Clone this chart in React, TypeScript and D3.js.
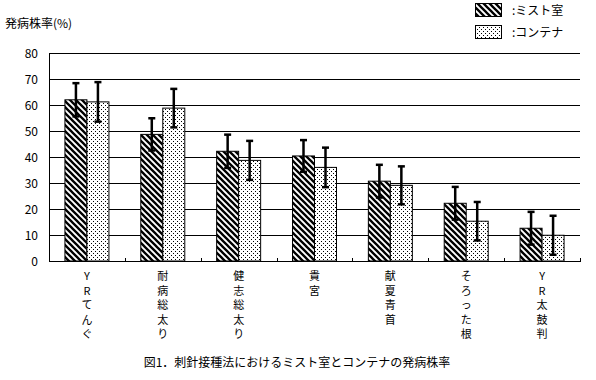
import React from "react";
import * as d3 from "d3";

const categories = ["YRてんぐ", "耐病総太り", "健志総太り", "貴宮", "献夏青首", "そろった根", "YR太鼓判"];
const seriesNames = ["ミスト室", "コンテナ"];
const mistValues = [62, 48.7, 42.2, 40.4, 30.7, 22.2, 12.6];
const mistErrors = [6.4, 6.2, 6.4, 6.1, 6.3, 6.3, 6.3];
const containerValues = [61.2, 58.8, 38.7, 36.0, 29.1, 15.3, 9.9];
const containerErrors = [7.6, 7.4, 7.5, 7.6, 7.3, 7.4, 7.5];
const yTicks = [0, 10, 20, 30, 40, 50, 60, 70, 80];
const yTitle = "発病株率(%)";
const chartTitle = "図1．刺針接種法におけるミスト室とコンテナの発病株率";

const W = 596;
const H = 380;
const left = 49;
const right = 580;
const top = 53;
const bottom = 261;
const FONT = "'Noto Sans CJK JP', 'Noto Sans', sans-serif";

export default function App() {
  const x = d3.scaleBand<string>().domain(categories).range([left, right]).paddingInner(0.42).paddingOuter(0.21);
  const xs = d3.scaleBand<string>().domain(seriesNames).range([0, x.bandwidth()]);
  const y = d3.scaleLinear().domain([0, 80]).range([bottom, top]);
  const step = x.step();
  const series = [
    { name: seriesNames[0], values: mistValues, errors: mistErrors, fill: "url(#hatch)" },
    { name: seriesNames[1], values: containerValues, errors: containerErrors, fill: "url(#dots)" },
  ];
  const boundaries = d3.range(1, categories.length + 1).map((i) => left + i * step);
  const cap = 3.5;

  return (
    <svg width={W} height={H} style={{ position: "absolute", left: 0, top: 0, background: "#fff" }} fontFamily={FONT}>
      <defs>
        <pattern id="hatch" patternUnits="userSpaceOnUse" width={6} height={6}>
          <rect width={6} height={6} fill="#fff" />
          <path d="M0,0 L6,6 M-1,5 L1,7 M5,-1 L7,1" stroke="#000" strokeWidth={2.3} />
        </pattern>
        <pattern id="dots" patternUnits="userSpaceOnUse" width={4} height={4}>
          <rect width={4} height={4} fill="#fff" />
          <rect x={1} y={1} width={1} height={1} fill="#000" />
          <rect x={3} y={3} width={1} height={1} fill="#000" />
        </pattern>
      </defs>

      <text x={5} y={28} fontSize={12} fill="#000">{yTitle}</text>

      {/* gridlines */}
      {yTicks.filter((t) => t > 0).map((t) => (
        <line key={t} x1={left} x2={right} y1={Math.round(y(t)) + 0.5} y2={Math.round(y(t)) + 0.5} stroke="#000" strokeWidth={1} />
      ))}
      {yTicks.map((t) => (
        <text key={"l" + t} x={38} y={y(t) + 4.5} fontSize={12} textAnchor="end" fill="#000">{t}</text>
      ))}

      {/* bars */}
      {series.map((s) =>
        categories.map((c, i) => (
          <rect
            key={s.name + c}
            x={(x(c) as number) + (xs(s.name) as number)}
            y={y(s.values[i])}
            width={xs.bandwidth()}
            height={y(0) - y(s.values[i])}
            fill={s.fill}
            stroke="#000"
            strokeWidth={1}
          />
        ))
      )}

      {/* error bars */}
      {series.map((s) =>
        categories.map((c, i) => {
          const cx = (x(c) as number) + (xs(s.name) as number) + xs.bandwidth() / 2;
          const hi = y(s.values[i] + s.errors[i]);
          const lo = y(s.values[i] - s.errors[i]);
          return (
            <g key={"e" + s.name + c} stroke="#000" strokeWidth={2.5}>
              <line x1={cx} x2={cx} y1={hi} y2={lo} />
              <line x1={cx - cap} x2={cx + cap} y1={hi} y2={hi} />
              <line x1={cx - cap} x2={cx + cap} y1={lo} y2={lo} />
            </g>
          );
        })
      )}

      {/* axes */}
      <line x1={left + 0.5} x2={left + 0.5} y1={top} y2={bottom + 1} stroke="#000" strokeWidth={1} />
      <line x1={left} x2={right + 1} y1={Math.round(y(0)) + 0.5} y2={Math.round(y(0)) + 0.5} stroke="#000" strokeWidth={1} />
      {boundaries.map((bx, i) => (
        <line key={"t" + i} x1={Math.round(bx) + 0.5} x2={Math.round(bx) + 0.5} y1={y(0) - 3} y2={y(0)} stroke="#000" strokeWidth={1} />
      ))}

      {/* category labels (vertical) */}
      {categories.map((c) => {
        const cx = (x(c) as number) + x.bandwidth() / 2;
        return (
          <text key={"c" + c} x={cx} fontSize={11} textAnchor="middle" fill="#000">
            {Array.from(c).map((ch, j) => (
              <tspan key={j} x={cx} y={280 + j * 14.5}>{ch}</tspan>
            ))}
          </text>
        );
      })}

      {/* legend */}
      <rect x={475.5} y={3.5} width={26} height={13} fill="url(#hatch)" stroke="#000" />
      <text x={512} y={15} fontSize={12} fill="#000">:{seriesNames[0]}</text>
      <rect x={475.5} y={25.5} width={26} height={13} fill="url(#dots)" stroke="#000" />
      <text x={512} y={37} fontSize={12} fill="#000">:{seriesNames[1]}</text>

      <text x={297} y={367} fontSize={12} textAnchor="middle" fill="#000">{chartTitle}</text>
    </svg>
  );
}
